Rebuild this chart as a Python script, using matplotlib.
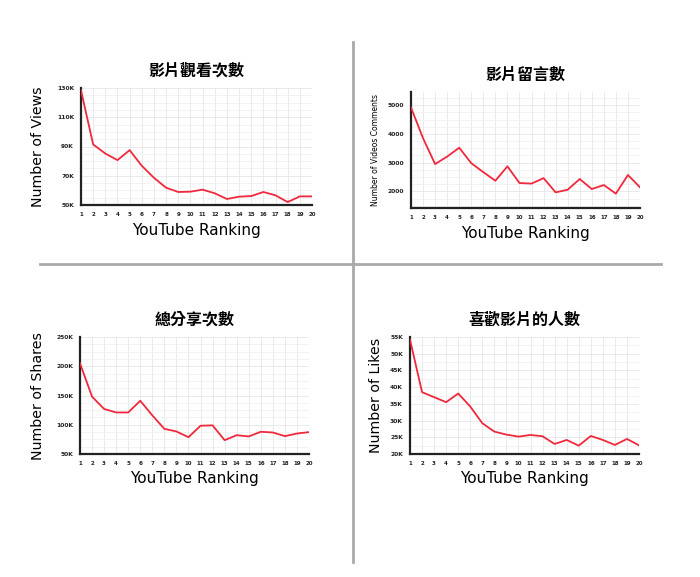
import matplotlib.pyplot as plt
from matplotlib.ticker import MultipleLocator
from matplotlib.lines import Line2D

plt.rcParams['font.family'] = ['Noto Sans CJK TC', 'DejaVu Sans']

rank = list(range(1, 21))

views = [128.4, 91.4, 85.2, 80.7, 87.5, 76.8, 68.6, 61.8, 58.9, 59.1,
         60.5, 58.0, 54.1, 55.7, 56.1, 58.9, 56.6, 52.0, 55.9, 55.9]
comments = [4920, 3850, 2950, 3210, 3520, 2980, 2670, 2370, 2870, 2290,
            2270, 2460, 1965, 2057, 2430, 2080, 2220, 1920, 2570, 2140]
shares = [205, 148, 127, 121, 121, 141, 116, 93, 88.5, 78.7,
          98.3, 99, 73.6, 82.2, 80, 88, 86.8, 80.5, 85, 87.4]
likes = [54.2, 38.5, 37.0, 35.5, 38.1, 34.2, 29.2, 26.7, 25.8, 25.2,
         25.7, 25.3, 23.0, 24.2, 22.5, 25.4, 24.2, 22.7, 24.5, 22.6]

titles = ['影片觀看次數', '影片留言數', '總分享次數', '喜歡影片的人數']
ylabels = ['Number of Views', 'Number of Videos Comments', 'Number of Shares', 'Number of Likes']

W, H = 700, 577
fig = plt.figure(figsize=(7, 5.77), dpi=100)


def box(x0, y0, x1, y1):
    return [x0 / W, 1 - y1 / H, (x1 - x0) / W, (y1 - y0) / H]


def panel(rect, y, ylim, minor, ticks, labels, title, ylabel, ylab_size, ylab_x):
    ax = fig.add_axes(box(*rect))
    ax.plot(rank, y, color='#f0283c', lw=1.3, zorder=3)
    ax.set_xlim(1, 20)
    ax.set_ylim(*ylim)
    ax.set_xticks(rank)
    ax.set_xticklabels([str(r) for r in rank], fontsize=4, fontweight='bold', family='DejaVu Sans')
    ax.set_yticks(ticks)
    ax.set_yticklabels(labels, fontsize=4.3, fontweight='bold', family='DejaVu Sans')
    ax.yaxis.set_minor_locator(MultipleLocator(minor))
    ax.grid(True, which='major', color='#e6e6e6', lw=0.6)
    ax.grid(True, which='minor', axis='y', color='#eeeeee', lw=0.5)
    ax.tick_params(length=0, pad=5, colors='#222222')
    ax.tick_params(which='minor', length=0)
    for s in ['top', 'right']:
        ax.spines[s].set_visible(False)
    for s in ['left', 'bottom']:
        ax.spines[s].set_linewidth(1.6)
        ax.spines[s].set_color('#222222')
    ax.set_title(title, fontsize=11.5, fontweight='bold', pad=9)
    ax.set_xlabel('YouTube Ranking', fontsize=11, family='DejaVu Sans', labelpad=4)
    ax.set_ylabel(ylabel, fontsize=ylab_size, family='DejaVu Sans')
    ax.yaxis.set_label_coords(ylab_x, 0.5)
    return ax


panel((81, 88, 312, 205), views, (50, 130), 5,
      [50, 70, 90, 110, 130], ['50K', '70K', '90K', '110K', '130K'],
      titles[0], ylabels[0], 10.2, -0.155)
panel((411, 92, 640, 208), comments, (1420, 5460), 250,
      [2000, 3000, 4000, 5000], ['2000', '3000', '4000', '5000'],
      titles[1], ylabels[1], 5.5, -0.134)
panel((80, 337, 309, 454), shares, (50, 250), 12.5,
      [50, 100, 150, 200, 250], ['50K', '100K', '150K', '200K', '250K'],
      titles[2], ylabels[2], 10.2, -0.155)
panel((410, 337, 639, 454), likes, (20, 55), 2.5,
      [20, 25, 30, 35, 40, 45, 50, 55], ['20K', '25K', '30K', '35K', '40K', '45K', '50K', '55K'],
      titles[3], ylabels[3], 10.2, -0.12)

# divider lines
fig.add_artist(Line2D([353 / W, 353 / W], [1 - 42 / H, 1 - 562 / H], color='#a9a9a9', lw=2))
fig.add_artist(Line2D([40 / W, 661 / W], [1 - 264 / H, 1 - 264 / H], color='#a9a9a9', lw=2))

fig.savefig('out.png', dpi=100, facecolor='white')
